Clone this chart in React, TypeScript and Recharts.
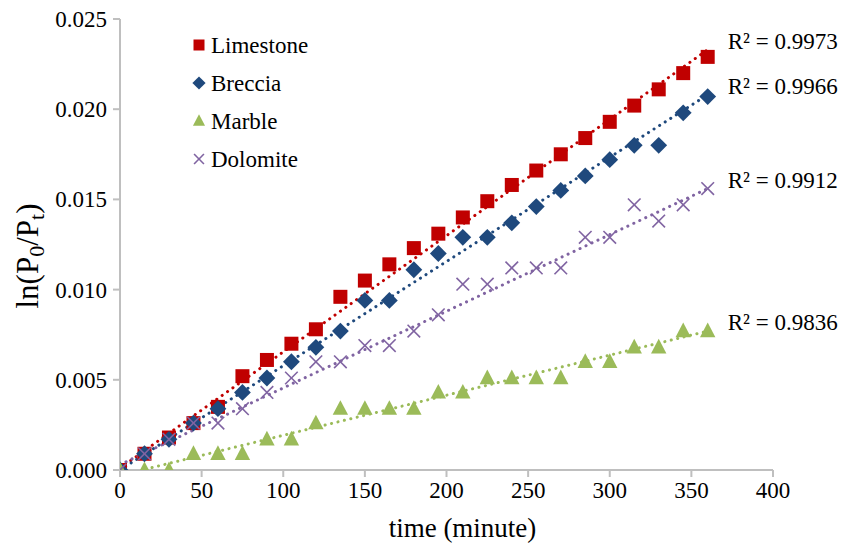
import { ComposedChart, Scatter, Line, XAxis, YAxis, LabelList } from 'recharts'

const minutes = [0, 15, 30, 45, 60, 75, 90, 105, 120, 135, 150, 165, 180, 195, 210, 225, 240, 255, 270, 285, 300, 315, 330, 345, 360]

const limestone = [0, 0.0009, 0.0018, 0.0026, 0.0035, 0.0052, 0.0061, 0.007, 0.0078, 0.0096, 0.0105, 0.0114, 0.0123, 0.0131, 0.014, 0.0149, 0.0158, 0.0166, 0.0175, 0.0184, 0.0193, 0.0202, 0.0211, 0.022, 0.0229]
const breccia = [0, 0.0009, 0.0017, 0.0026, 0.0034, 0.0043, 0.0051, 0.006, 0.0068, 0.0077, 0.0094, 0.0094, 0.0111, 0.012, 0.0129, 0.0129, 0.0137, 0.0146, 0.0155, 0.0163, 0.0172, 0.018, 0.018, 0.0198, 0.0207]
const marble = [0, 0, 0, 0.0009, 0.0009, 0.0009, 0.0017, 0.0017, 0.0026, 0.0034, 0.0034, 0.0034, 0.0034, 0.0043, 0.0043, 0.0051, 0.0051, 0.0051, 0.0051, 0.006, 0.006, 0.0068, 0.0068, 0.0077, 0.0077]
const dolomite = [0, 0.0009, 0.0017, 0.0026, 0.0026, 0.0034, 0.0043, 0.0051, 0.006, 0.006, 0.0069, 0.0069, 0.0077, 0.0086, 0.0103, 0.0103, 0.0112, 0.0112, 0.0112, 0.0129, 0.0129, 0.0147, 0.0138, 0.0147, 0.0156]

// trend line ends
const trendX = [0, 360]
const limestoneTrend = [0.0001, 0.0233]
const brecciaTrend = [0, 0.0208]
const marbleTrend = [-0.0003, 0.0077]
const dolomiteTrend = [0.0003, 0.0156]

const r2Labels = ['R² = 0.9973', 'R² = 0.9966', 'R² = 0.9836', 'R² = 0.9912']
const xTicks = [0, 50, 100, 150, 200, 250, 300, 350, 400]
const yTicks = [0, 0.005, 0.01, 0.015, 0.02, 0.025]

const FONT = 'Liberation Serif'
const AXIS = '#BFBFBF'

const toPoints = (ys: number[]) => minutes.map((x, i) => ({ x, y: ys[i] }))
const toTrend = (ys: number[]) => trendX.map((x, i) => ({ x, y: ys[i] }))

const series = [
  { name: 'Limestone', color: '#C00000', shape: 'square', values: limestone, trend: limestoneTrend, r2: r2Labels[0] },
  { name: 'Breccia', color: '#1F497D', shape: 'diamond', values: breccia, trend: brecciaTrend, r2: r2Labels[1] },
  { name: 'Marble', color: '#9BBB59', shape: 'triangle', values: marble, trend: marbleTrend, r2: r2Labels[2] },
  { name: 'Dolomite', color: '#8064A2', shape: 'x', values: dolomite, trend: dolomiteTrend, r2: r2Labels[3] },
]

function Marker({ cx, cy, kind, color, s }: { cx: number; cy: number; kind: string; color: string; s: number }) {
  if (kind === 'square') return <rect x={cx - s / 2} y={cy - s / 2} width={s} height={s} fill={color} />
  if (kind === 'diamond') {
    const r = s * 0.6
    return <polygon points={`${cx},${cy - r} ${cx + r},${cy} ${cx},${cy + r} ${cx - r},${cy}`} fill={color} />
  }
  if (kind === 'triangle') {
    const r = s * 0.55
    return <polygon points={`${cx},${cy - r * 1.1} ${cx + r},${cy + r * 0.8} ${cx - r},${cy + r * 0.8}`} fill={color} />
  }
  const r = s * 0.45
  return (
    <g stroke={color} strokeWidth={1.6}>
      <line x1={cx - r} y1={cy - r} x2={cx + r} y2={cy + r} />
      <line x1={cx - r} y1={cy + r} x2={cx + r} y2={cy - r} />
    </g>
  )
}

function LegendBox() {
  return (
    <svg width={170} height={160} style={{ position: 'absolute', left: 185, top: 26 }}>
      {series.map((s, i) => (
        <g key={s.name}>
          <Marker cx={14} cy={19 + i * 38} kind={s.shape} color={s.color} s={11} />
          <text x={26} y={19 + i * 38} dy="0.35em" fontFamily={FONT} fontSize={23} fill="#000">
            {s.name}
          </text>
        </g>
      ))}
    </svg>
  )
}

function YTitle() {
  return (
    <text x={0} y={0} transform="translate(38, 256) rotate(-90)" textAnchor="middle" fontFamily={FONT} fontSize={31} fill="#000">
      ln(P<tspan fontSize={22} dy={6}>0</tspan>
      <tspan dy={-6}>/P</tspan>
      <tspan fontSize={22} dy={6}>t</tspan>
      <tspan dy={-6}>)</tspan>
    </text>
  )
}

function XTick(p: any) {
  return (
    <text x={p.x} y={p.y} dy="0.71em" textAnchor="middle" fontFamily={FONT} fontSize={23} fill="#000">
      {p.payload.value}
    </text>
  )
}

function YTick(p: any) {
  return (
    <text x={p.x} y={p.y} dy="0.35em" textAnchor="end" fontFamily={FONT} fontSize={23} fill="#000">
      {Number(p.payload.value).toFixed(3)}
    </text>
  )
}

export default function App() {
  return (
    <div style={{ position: 'absolute', left: 0, top: 0, background: '#fff' }}>
      <ComposedChart width={856} height={543} margin={{ top: 19, right: 83, bottom: 3, left: 0 }}>
        <XAxis
          type="number"
          dataKey="x"
          domain={[0, 400]}
          ticks={xTicks}
          allowDataOverflow
          height={70}
          stroke={AXIS}
          strokeWidth={2}
          tickSize={7}
          tickMargin={5}
          tick={<XTick />}
          label={{ value: 'time (minute)', position: 'insideBottom', offset: 3, dx: 16, fill: '#000', fontSize: 27, fontFamily: FONT }}
        />
        <YAxis
          type="number"
          dataKey="y"
          domain={[0, 0.025]}
          ticks={yTicks}
          allowDataOverflow
          width={120}
          stroke={AXIS}
          strokeWidth={2}
          tickSize={7}
          tickMargin={6}
          tick={<YTick />}
          label={{ content: () => <YTitle /> }}
        />
        {series.map((s) => (
          <Line
            key={s.name + '-trend'}
            data={toTrend(s.trend)}
            dataKey="y"
            stroke={s.color}
            strokeWidth={3}
            strokeDasharray="0.1 6.5"
            strokeLinecap="round"
            dot={false}
            activeDot={false}
            legendType="none"
            isAnimationActive={false}
          >
            <LabelList
              dataKey="y"
              content={(p: any) =>
                p.index === 1 ? (
                  <text x={p.x + 20} y={p.y - 6} dominantBaseline="middle" fontFamily={FONT} fontSize={23} fill="#000">
                    {s.r2}
                  </text>
                ) : null
              }
            />
          </Line>
        ))}
        {series.map((s) => (
          <Scatter
            key={s.name}
            name={s.name}
            data={toPoints(s.values)}
            dataKey="y"
            fill={s.color}
            isAnimationActive={false}
            shape={(p: any) => <Marker cx={p.cx} cy={p.cy} kind={s.shape} color={s.color} s={14} />}
          />
        ))}
      </ComposedChart>
      <LegendBox />
    </div>
  )
}
